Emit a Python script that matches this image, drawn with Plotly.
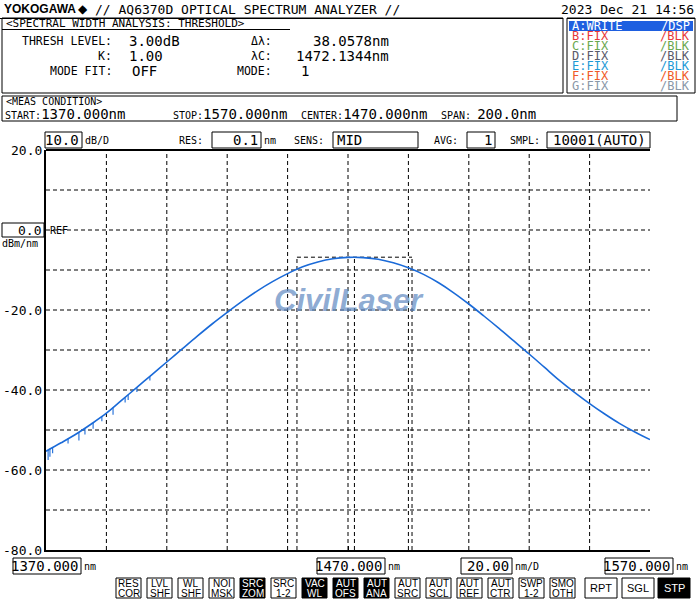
import plotly.graph_objects as go

# ---------------- data ----------------
wavelength_nm = [1370, 1375, 1380, 1385, 1390, 1395, 1400, 1405, 1410, 1415, 1420,
                 1425, 1430, 1435, 1440, 1445, 1450, 1455, 1460, 1465, 1470,
                 1475, 1480, 1485, 1490, 1495, 1500, 1505, 1510, 1515, 1520,
                 1525, 1530, 1535, 1540, 1545, 1550, 1555, 1560, 1565, 1570]
power_dbm = [-55.3, -53.2, -51.0, -48.5, -45.8, -42.6, -39.4, -36.2, -33.0, -29.8, -26.6,
             -23.5, -20.6, -17.8, -15.2, -12.9, -10.9, -9.2, -8.0, -7.2, -6.85,
             -6.9, -7.3, -8.2, -9.45, -11.1, -13.2, -15.7, -18.5, -21.5, -24.6,
             -27.8, -31.0, -34.3, -37.6, -40.6, -43.4, -46.0, -48.4, -50.5, -52.4]

# noise dips on the low-wavelength side (wavelength, top, bottom)
dip_wl = [1370.7, 1371.3, 1372.2, 1377.3, 1380.9, 1382.9, 1385.6, 1388.5, 1392.2, 1396.2, 1397.2, 1400.1, 1404.4]
dip_top = [-55.0, -54.7, -54.3, -52.2, -50.6, -49.6, -48.2, -46.6, -44.4, -41.8, -41.2, -39.3, -36.6]
dip_bottom = [-57.5, -56.7, -55.8, -53.4, -52.6, -51.1, -49.7, -47.8, -46.2, -43.1, -42.5, -40.5, -37.6]

# threshold analysis result
peak_level = -6.8
thr_left, thr_center, thr_right = 1453.1, 1472.13, 1491.2

x_grid = [1390, 1410, 1430, 1450, 1470, 1490, 1510, 1530, 1550]
y_grid = [10, 0, -10, -20, -30, -40, -50, -60, -70]
y_tick_vals = [20, -20, -40, -60, -80]
y_tick_text = ["20.0", "-20.0", "-40.0", "-60.0", "-80.0"]

legend_rows = [("A:WRITE", "/DSP", "white", "white"),
               ("B:FIX", "/BLK", "#e8393a", "#e8393a"),
               ("C:FIX", "/BLK", "#6aa84f", "#6aa84f"),
               ("D:FIX", "/BLK", "#5a5a6a", "#5a5a6a"),
               ("E:FIX", "/BLK", "#1e9ad6", "#1e9ad6"),
               ("F:FIX", "/BLK", "#f05a28", "#f05a28"),
               ("G:FIX", "/BLK", "#8a98a8", "#8a98a8")]

buttons = [("RES", "COR", False), ("LVL", "SHF", False), ("WL", "SHF", False), ("NOI", "MSK", False),
           ("SRC", "ZOM", True), ("SRC", "1-2", False), ("VAC", "WL", True), ("AUT", "OFS", True),
           ("AUT", "ANA", True), ("AUT", "SRC", False), ("AUT", "SCL", False), ("AUT", "REF", False),
           ("AUT", "CTR", False), ("SWP", "1-2", False), ("SMO", "OTH", False)]

# ---------------- layout helpers ----------------
X0, X1, Y0, Y1 = 46, 650, 150, 550
FONT = "DejaVu Sans Mono"
ann = []
shp = []


def P(x):
    return (x - X0) / (X1 - X0)


def Q(y):
    return (Y1 - y) / (Y1 - Y0)


def text(x, y, s, size=12, color="black", anchor="left", family=FONT):
    ann.append(dict(x=P(x), y=Q(y), xref="paper", yref="paper", text=s, showarrow=False,
                    xanchor=anchor, yanchor="middle", borderpad=0,
                    font=dict(size=size, color=color, family=family)))


def box(x0, y0, x1, y1, fill="rgba(0,0,0,0)", lw=1, color="black"):
    shp.append(dict(type="rect", xref="paper", yref="paper", x0=P(x0), x1=P(x1),
                    y0=Q(y1), y1=Q(y0), line=dict(color=color, width=lw), fillcolor=fill, layer="below"))


def hline(x0, x1, y, lw=1, color="black"):
    shp.append(dict(type="line", xref="paper", yref="paper", x0=P(x0), x1=P(x1),
                    y0=Q(y), y1=Q(y), line=dict(color=color, width=lw)))


# ---------------- figure ----------------
fig = go.Figure()

DASH = dict(color="black", width=1, dash="4px,3px")
for gx in x_grid:
    shp.append(dict(type="line", xref="x", yref="y", x0=gx, x1=gx, y0=-80, y1=20, line=DASH, layer="below"))
for gy in y_grid:
    shp.append(dict(type="line", xref="x", yref="y", x0=1370, x1=1570, y0=gy, y1=gy, line=DASH, layer="below"))

# threshold markers
for mx in (thr_left, thr_center, thr_right):
    shp.append(dict(type="line", xref="x", yref="y", x0=mx, x1=mx, y0=-80, y1=peak_level,
                    line=DASH, layer="below"))
shp.append(dict(type="line", xref="x", yref="y", x0=thr_left, x1=thr_right, y0=peak_level, y1=peak_level,
                line=DASH, layer="below"))

fig.add_trace(go.Scatter(x=wavelength_nm, y=power_dbm, mode="lines", line_shape="spline",
                         line=dict(color="#1a6ad8", width=1.6), hoverinfo="skip", showlegend=False))

dx, dy = [], []
for w, t, b in zip(dip_wl, dip_top, dip_bottom):
    dx += [w, w, None]
    dy += [t, b, None]
fig.add_trace(go.Scatter(x=dx, y=dy, mode="lines", line=dict(color="#1a6ad8", width=1.1),
                         hoverinfo="skip", showlegend=False))

# header
text(3, 9, "<b>YOKOGAWA</b>", 12, family="Liberation Sans")
text(77, 9, "◆", 12, family="DejaVu Sans")
text(94, 9, "// AQ6370D OPTICAL SPECTRUM ANALYZER //", 13)
text(695, 9, "2023 Dec 21 14:56", 13, anchor="right")
hline(0, 563, 18.5)
hline(567, 695, 18.5)

# analysis box
box(2, 18, 563, 93)
text(5, 23, "&lt;SPECTRAL WIDTH ANALYSIS: THRESHOLD&gt;", 11)
hline(2, 290, 29.5)
text(113, 41, "THRESH LEVEL:", 11.5, anchor="right")
text(128, 41, "3.00dB", 14)
text(113, 56, "K:", 11.5, anchor="right")
text(128, 56, "1.00", 14)
text(113, 71, "MODE FIT:", 11.5, anchor="right")
text(131, 71, "OFF", 14)
text(273, 41, "Δλ:", 11.5, anchor="right")
text(390, 41, "38.0578nm", 14, anchor="right")
text(273, 56, "λC:", 11.5, anchor="right")
text(390, 56, "1472.1344nm", 14, anchor="right")
text(273, 71, "MODE:", 11.5, anchor="right")
text(300, 71, "1", 14)

# trace legend box
box(567, 18, 695, 93)
box(569, 21, 693, 31, fill="#1e5fe0", lw=0, color="#1e5fe0")
for i, (a, b, ca, cb) in enumerate(legend_rows):
    yy = 26 + 10 * i
    text(571, yy, a, 12, color=ca)
    text(691, yy, b, 12, color=cb, anchor="right")

# meas condition box
box(2, 96, 677, 121)
text(5, 102, "&lt;MEAS CONDITION&gt;", 10)
text(4, 114, "START:<span style='font-size:14px'>1370.000nm</span>", 10)
text(172, 114, "STOP:<span style='font-size:14px'>1570.000nm</span>", 10)
text(300, 114, "CENTER:<span style='font-size:14px'>1470.000nm</span>", 10)
text(440, 114, "SPAN: <span style='font-size:14px'>200.0nm</span>", 10)

# settings row
box(45, 132, 82, 148)
text(80, 140, "10.0", 14, anchor="right")
text(84, 140, "dB/D", 10)
text(178, 140, "RES:", 10)
box(212, 132, 261, 148)
text(259, 140, "0.1", 14, anchor="right")
text(263, 140, "nm", 10)
text(293, 140, "SENS:", 10)
box(333, 132, 418, 148)
text(336, 140, "MID", 14)
text(433, 140, "AVG:", 10)
box(467, 132, 495, 148)
text(493, 140, "1", 14, anchor="right")
text(509, 140, "SMPL:", 10)
box(547, 132, 650, 148)
text(647, 140, "10001(AUTO)", 14, anchor="right")

# y labels & ref
for v, t in zip(y_tick_vals, y_tick_text):
    text(43, 550 - (v + 80) * 4, t, 13, anchor="right")
box(2, 223, 44, 237)
text(42, 230, "0.0", 13, anchor="right")
text(49, 230, "REF", 10)
text(1, 243, "dBm/nm", 10)

# bottom axis labels
box(13, 558, 81, 574)
text(79, 566, "1370.000", 14, anchor="right")
text(83, 566, "nm", 10)
box(317, 558, 385, 574)
text(383, 566, "1470.000", 14, anchor="right")
text(387, 566, "nm", 10)
box(461, 558, 512, 574)
text(510, 566, "20.00", 14, anchor="right")
text(514, 566, "nm/D", 10)
box(605, 558, 673, 574)
text(671, 566, "1570.000", 14, anchor="right")
text(675, 566, "nm", 10)

# bottom softkeys
for i, (l1, l2, dark) in enumerate(buttons):
    bx = 116 + 31 * i
    box(bx, 578, bx + 25, 598, fill="black" if dark else "white")
    c = "white" if dark else "black"
    text(bx + 12.5, 583.5, l1, 10, color=c, anchor="center", family="Liberation Sans")
    text(bx + 12.5, 593, l2, 10, color=c, anchor="center", family="Liberation Sans")
for (x0, x1, lab, dark) in [(585, 617, "RPT", False), (622, 654, "SGL", False), (658, 690, "STP", True)]:
    box(x0, 578, x1, 598, fill="black" if dark else "white")
    text((x0 + x1) / 2, 588, lab, 11, color="white" if dark else "black", anchor="center",
         family="Liberation Sans")

# watermark
ann.append(dict(x=P(349), y=Q(300), xref="paper", yref="paper", showarrow=False,
                text="<b><i>CivilLaser</i></b>", xanchor="center", yanchor="middle",
                font=dict(size=31, color="rgba(100,140,195,0.72)", family="Liberation Sans")))

# top border of the plot area
shp.append(dict(type="line", xref="paper", yref="paper", x0=0, x1=1, y0=1, y1=1,
                line=dict(color="black", width=2)))

fig.update_layout(
    width=699, height=600,
    margin=dict(l=X0, r=699 - X1, t=Y0, b=600 - Y1),
    paper_bgcolor="white", plot_bgcolor="white",
    xaxis=dict(range=[1370, 1570], showgrid=False, zeroline=False, showticklabels=False,
               showline=True, linecolor="black", linewidth=2, mirror=False,
               ticks="inside", tickvals=[1470, 1570], ticklen=4, tickcolor="black", fixedrange=True),
    yaxis=dict(range=[-80, 20], showgrid=False, zeroline=False, showticklabels=False,
               showline=True, linecolor="black", linewidth=2, mirror=False, fixedrange=True),
    annotations=ann, shapes=shp, showlegend=False,
)

fig.write_html("out.html", config={"displayModeBar": False},
               post_script="document.body.style.margin='0';document.body.style.overflow='hidden';")
